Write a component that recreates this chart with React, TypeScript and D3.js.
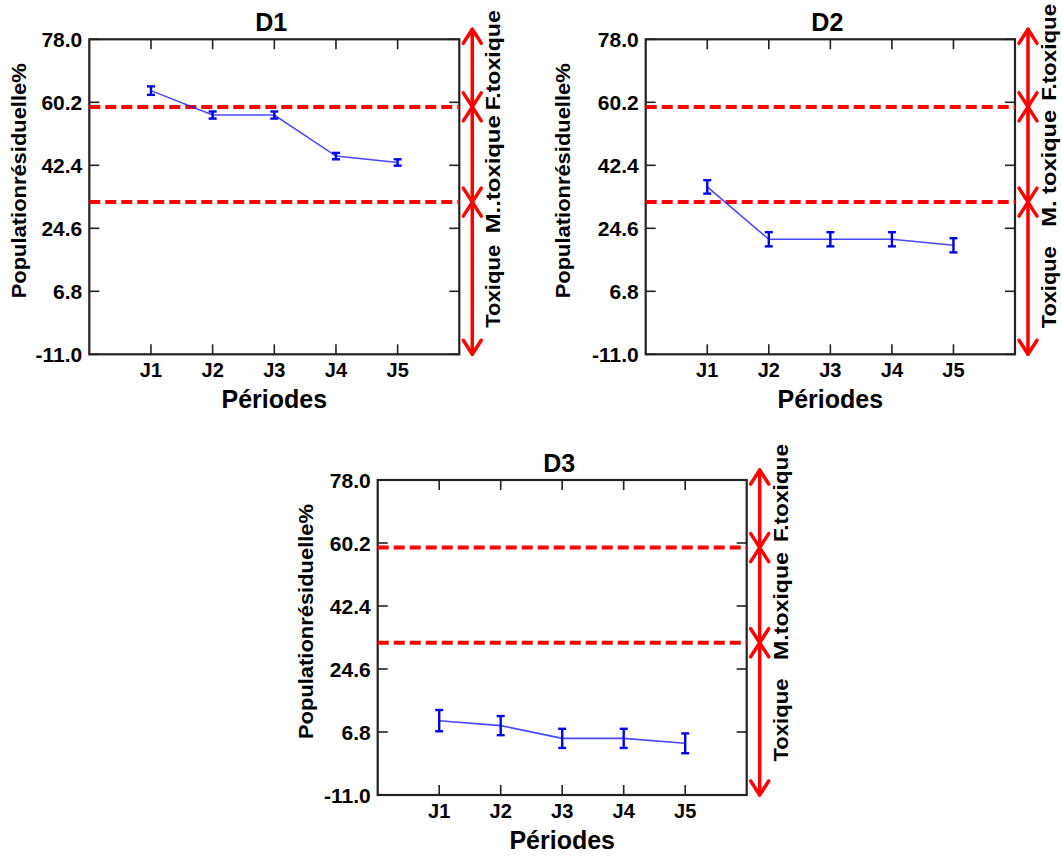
import React from "react";
import * as d3 from "d3";

// ---- data ----
const periods = ["J1", "J2", "J3", "J4", "J5"];
const yTicks = [78.0, 60.2, 42.4, 24.6, 6.8, -11.0];
const thresholds = [58.9, 32.0];
const panelTitles = ["D1", "D2", "D3"];
const d1Values = [63.5, 56.6, 56.6, 45.0, 43.2];
const d1Errors = [1.2, 1.0, 1.0, 0.9, 0.9];
const d2Values = [36.3, 21.5, 21.5, 21.5, 19.8];
const d2Errors = [1.9, 2.0, 2.0, 2.0, 2.0];
const d3Values = [10.0, 8.6, 5.0, 5.0, 3.6];
const d3Errors = [3.0, 2.7, 2.7, 2.7, 2.8];
const zoneLabelsD1 = ["F.toxique", "M..toxique", "Toxique"];
const zoneLabelsD2 = ["F.toxique", "M. toxique", "Toxique"];
const zoneLabelsD3 = ["F.toxique", "M.toxique", "Toxique"];
const yLabel = "Populationrésiduelle%";
const xLabel = "Périodes";

// ---- layout ----
const W = 1062;
const H = 856;
const FONT = "'Liberation Sans', Arial, sans-serif";

const panels = [
  { title: panelTitles[0], values: d1Values, errors: d1Errors, zones: zoneLabelsD1,
    x: 89.3, y: 39.3, w: 370, h: 315, yLabDx: -63, zoneCenters: [21, 135, 247], zoneLens: [100, 118, 83] },
  { title: panelTitles[1], values: d2Values, errors: d2Errors, zones: zoneLabelsD2,
    x: 645.7, y: 39.3, w: 369.3, h: 315, yLabDx: -76, zoneCenters: [13, 129, 248], zoneLens: [97, 117, 82] },
  { title: panelTitles[2], values: d3Values, errors: d3Errors, zones: zoneLabelsD3,
    x: 377.7, y: 480, w: 369, h: 315, yLabDx: -65, zoneCenters: [13, 126, 240], zoneLens: [98, 108, 83] },
];

function Arrow({ x, y1, y2 }: { x: number; y1: number; y2: number }) {
  const hl = 14, hw = 9;
  return (
    <g stroke="#ff0000" strokeWidth={3.5} fill="none" strokeLinecap="round" strokeLinejoin="round">
      <line x1={x} y1={y1} x2={x} y2={y2} />
      <polyline points={`${x - hw},${y1 + hl} ${x},${y1} ${x + hw},${y1 + hl}`} />
      <polyline points={`${x - hw},${y2 - hl} ${x},${y2} ${x + hw},${y2 - hl}`} />
    </g>
  );
}

function Panel({ p }: { p: (typeof panels)[number] }) {
  const xs = d3.scalePoint<string>().domain(periods).range([0, p.w]).padding(1);
  const ys = d3.scaleLinear().domain([-11, 78]).range([p.h, 0]);
  const f1 = d3.format(".1f");
  const fmt = (v: number) => f1(v).replace("\u2212", "-");
  const line = d3
    .line<number>()
    .x((_, i) => xs(periods[i]) as number)
    .y((v) => ys(v));
  const tickLen = 10;
  const ax = p.w + 13;
  const tx = p.w + 41;
  const t1 = ys(thresholds[0]);
  const t2 = ys(thresholds[1]);
  const arrowSegs = [
    [-10, t1],
    [t1, t2],
    [t2, p.h],
  ];
  return (
    <g transform={`translate(${p.x},${p.y})`} fontFamily={FONT} fontWeight="bold">
      {/* title */}
      <text x={p.w / 2 - 3} y={-8} textAnchor="middle" fontSize={25} fill="#000">
        {p.title}
      </text>
      {/* ticks */}
      <g stroke="#222" strokeWidth={1.6}>
        {yTicks.map((t) => (
          <g key={"y" + t}>
            <line x1={0} x2={tickLen} y1={ys(t)} y2={ys(t)} />
            <line x1={p.w} x2={p.w - tickLen} y1={ys(t)} y2={ys(t)} />
          </g>
        ))}
        {periods.map((c) => (
          <g key={"x" + c}>
            <line x1={xs(c)} x2={xs(c)} y1={0} y2={tickLen} />
            <line x1={xs(c)} x2={xs(c)} y1={p.h} y2={p.h - tickLen} />
          </g>
        ))}
      </g>
      {/* frame */}
      <rect x={0} y={0} width={p.w} height={p.h} fill="none" stroke="#222" strokeWidth={2.2} />
      {/* y tick labels */}
      {yTicks.map((t) => (
        <text key={"yl" + t} x={-7} y={ys(t)} dy="0.36em" textAnchor="end" fontSize={21} fill="#000">
          {fmt(t)}
        </text>
      ))}
      {/* x tick labels */}
      {periods.map((c) => (
        <text key={"xl" + c} x={xs(c)} y={p.h + 23} textAnchor="middle" fontSize={20} fill="#000">
          {c}
        </text>
      ))}
      {/* axis labels */}
      <text x={p.w / 2} y={p.h + 54} textAnchor="middle" fontSize={25} fill="#000">
        {xLabel}
      </text>
      <text
        transform={`translate(${p.yLabDx},${p.h / 2 - 16}) rotate(-90)`}
        textAnchor="middle"
        fontSize={20}
        fill="#000"
        textLength={235}
        lengthAdjust="spacingAndGlyphs"
      >
        {yLabel}
      </text>
      {/* thresholds */}
      {thresholds.map((t) => (
        <line key={"th" + t} x1={0} x2={p.w} y1={ys(t)} y2={ys(t)} stroke="#ff0000" strokeWidth={4} strokeDasharray="11 5" />
      ))}
      {/* data line */}
      <path d={line(p.values) || ""} fill="none" stroke="#1a1aff" strokeOpacity={0.8} strokeWidth={1.6} />
      {/* error bars */}
      <g stroke="#0000ee" strokeWidth={2.4}>
        {p.values.map((v, i) => {
          const cx = xs(periods[i]) as number;
          const yt = ys(v + p.errors[i]);
          const yb = ys(v - p.errors[i]);
          return (
            <g key={"e" + i}>
              <line x1={cx} x2={cx} y1={yt} y2={yb} />
              <line x1={cx - 4} x2={cx + 4} y1={yt} y2={yt} />
              <line x1={cx - 4} x2={cx + 4} y1={yb} y2={yb} />
            </g>
          );
        })}
      </g>
      {/* zone arrows */}
      {arrowSegs.map((s, i) => (
        <Arrow key={"a" + i} x={ax} y1={s[0]} y2={s[1]} />
      ))}
      {/* zone labels */}
      {p.zones.map((z, i) => (
        <text
          key={"z" + i}
          transform={`translate(${tx},${p.zoneCenters[i]}) rotate(-90)`}
          textAnchor="middle"
          fontSize={20}
          fill="#000"
          textLength={p.zoneLens[i]}
          lengthAdjust="spacingAndGlyphs"
        >
          {z}
        </text>
      ))}
    </g>
  );
}

export default function App() {
  return (
    <svg
      width={W}
      height={H}
      viewBox={`0 0 ${W} ${H}`}
      style={{ position: "absolute", left: 0, top: 0, background: "#fff" }}
    >
      <rect width={W} height={H} fill="#fff" />
      {panels.map((p) => (
        <Panel key={p.title} p={p} />
      ))}
    </svg>
  );
}
